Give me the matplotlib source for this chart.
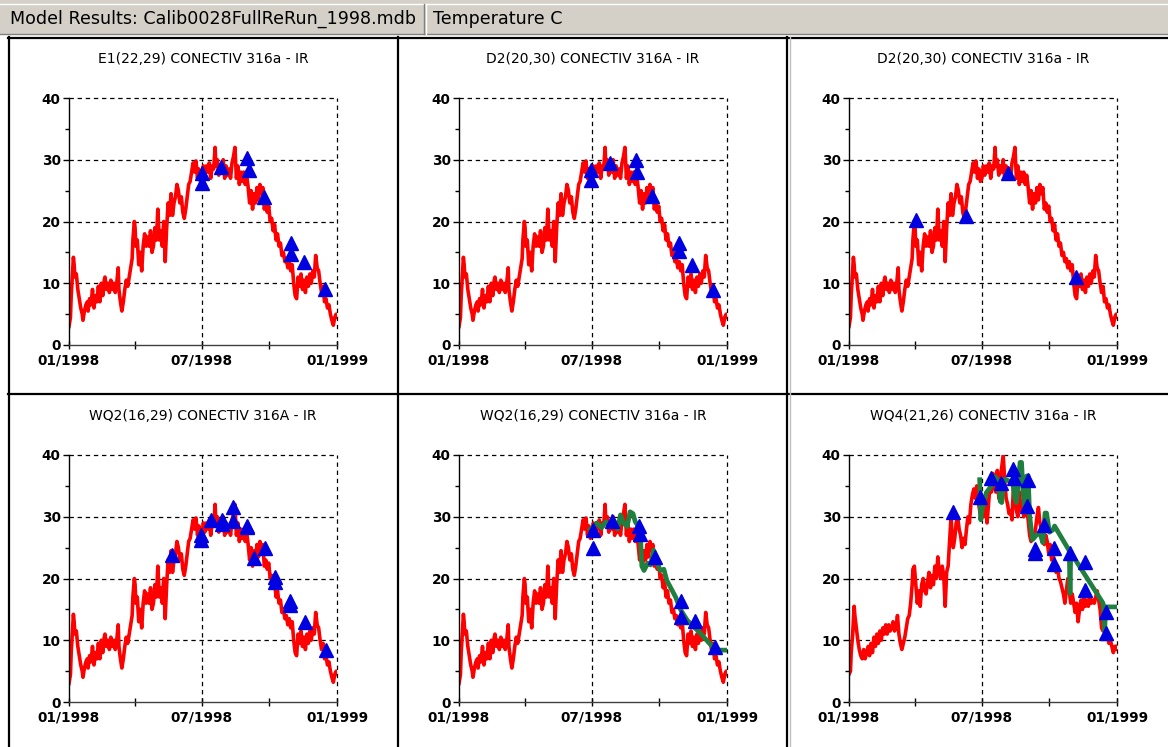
import matplotlib
matplotlib.use("Agg")
import matplotlib.pyplot as plt
from matplotlib.patches import Rectangle
from matplotlib.lines import Line2D

W, H = 1168, 747

# ---------------- data ----------------
titles = ["E1(22,29) CONECTIV 316a - IR",
          "D2(20,30) CONECTIV 316A - IR",
          "D2(20,30) CONECTIV 316a - IR",
          "WQ2(16,29) CONECTIV 316A - IR",
          "WQ2(16,29) CONECTIV 316a - IR",
          "WQ4(21,26) CONECTIV 316a - IR"]

# modelled temperature (day of 1998, deg C)
base_days = [0, 2, 3, 4, 5, 6, 7, 8, 10, 12, 14, 16, 18, 19, 21, 23, 25, 26, 28, 30,
             32, 34, 36, 38, 40, 42, 44, 46, 48, 49, 51, 53, 55, 57, 59, 61, 63, 65, 67, 68,
             70, 72, 74, 76, 78, 80, 82, 84, 86, 87, 88, 89, 90, 91, 93, 95, 97, 99, 101, 103,
             105, 107, 109, 111, 113, 115, 117, 119, 121, 123, 125, 127, 129, 130, 131, 133, 135, 137, 139, 141,
             143, 145, 147, 149, 151, 153, 155, 157, 159, 161, 163, 165, 167, 169, 171, 173, 175, 177, 179, 181,
             183, 185, 187, 189, 191, 193, 195, 197, 199, 200, 202, 204, 206, 208, 210, 212, 214, 216, 218, 220,
             222, 224, 226, 228, 230, 232, 234, 236, 238, 240, 242, 244, 246, 248, 250, 252, 254, 256, 258, 260,
             262, 264, 266, 268, 270, 272, 274, 276, 278, 280, 282, 284, 286, 288, 290, 292, 294, 296, 298, 300,
             302, 304, 306, 308, 310, 312, 314, 316, 318, 320, 322, 324, 326, 328, 330, 332, 334, 336, 338, 340,
             342, 344, 346, 348, 350, 352, 354, 356, 358, 360, 362, 364, 365]
base_temp = [3.0, 4.5, 8, 10, 12, 14.2, 13, 11, 11.5, 9, 7.5, 6, 5, 4, 5.5, 6.5, 7, 5.5, 7.5, 6.5,
             9, 6, 8, 7, 9.5, 7, 10, 8, 10.5, 11, 9, 10, 8.5, 10.5, 9, 10, 8.5, 10, 12.5, 9,
             7, 5.5, 7, 9, 10.5, 9.5, 11, 12.5, 14, 17, 18.5, 20, 19, 16, 17, 13, 15, 12, 16, 18,
             16, 17.5, 16, 18.5, 15, 16, 19, 17, 22, 17, 18.5, 16, 20, 17, 13.5, 19, 23, 21, 24.5, 21,
             23, 24, 26, 25, 23, 24, 21.5, 20.5, 22, 24, 26, 26.5, 28, 29.5, 28, 29.8, 27, 28.5, 26.5, 27,
             29, 27.5, 29, 28, 29.5, 27, 29, 28.5, 32, 29, 30, 27.5, 29, 28, 30, 27, 29, 27.5, 28.5, 27,
             29.5, 30.5, 32, 27, 29, 26, 28, 26.5, 28, 26, 27.5, 25.5, 23, 25, 22, 24.5, 23, 25.5, 23.5, 26,
             24.5, 25.5, 22, 23, 21.5, 22.5, 20, 20.5, 18.5, 19.5, 17, 18, 16, 16.5, 14.5, 15, 13.5, 14, 12.5, 13.5,
             12, 13, 10, 8, 7.5, 11, 9.5, 11.5, 9, 10.5, 8.5, 11, 9.5, 11.5, 10, 12, 11, 14.5, 12.5, 12,
             10, 8.5, 9.5, 7, 7.5, 6, 6.5, 5, 4, 3.2, 4.5, 5, 4.5]

wq4_days = [0, 2, 3, 4, 5, 7, 8, 10, 12, 14, 16, 18, 20, 22, 24, 26, 28, 30, 32, 34,
            36, 38, 40, 42, 44, 46, 48, 50, 52, 54, 56, 58, 60, 62, 64, 66, 68, 70, 72, 74,
            76, 78, 80, 82, 84, 86, 87, 89, 91, 93, 95, 97, 99, 101, 103, 105, 107, 109, 111, 113,
            115, 117, 119, 121, 123, 125, 127, 129, 131, 133, 135, 137, 139, 140, 142, 144, 146, 148, 150, 152,
            154, 156, 158, 160, 162, 164, 166, 168, 170, 172, 174, 176, 178, 180, 182, 184, 186, 188, 190, 192,
            194, 196, 198, 200, 202, 204, 206, 208, 210, 212, 214, 216, 218, 220, 222, 224, 226, 228, 230, 232,
            234, 236, 238, 240, 242, 244, 246, 248, 250, 252, 254, 256, 258, 260, 262, 264, 266, 268, 270, 272,
            274, 276, 278, 280, 282, 284, 286, 288, 290, 292, 294, 296, 298, 300, 302, 304, 306, 308, 310, 312,
            314, 316, 318, 320, 322, 324, 326, 328, 330, 332, 334, 336, 338, 340, 342, 344, 346, 348, 350, 352,
            354, 356, 358, 360, 362, 364, 365]
wq4_temp = [4.5, 5, 8, 9.5, 11, 15.5, 14, 12, 10, 8.5, 7.5, 7, 8.5, 7, 8, 9, 7.5, 9.5, 8, 10.5,
            9, 11, 9.5, 11.5, 10, 12, 11, 12.5, 11, 12.5, 11.5, 12, 13, 11.5, 12, 14, 11, 9.5, 8.5, 9.5,
            10.5, 12, 13.5, 14, 16, 19, 21.5, 22, 19, 16, 18, 15.5, 19, 20, 18, 17.5, 19.5, 21, 18.5, 20.5,
            19, 22, 20, 23.5, 21, 20, 22, 20.5, 15.5, 21, 22, 26, 30, 28, 25, 26.5, 29, 30, 28, 27,
            25, 26.5, 25.5, 28, 30, 29, 32, 33.5, 34.5, 33, 35, 32.5, 31, 29.5, 31, 30, 33, 29, 32, 35,
            34, 37, 35, 34, 37.5, 33, 36, 38, 40, 36, 33, 32, 30.5, 31, 29.5, 35, 33, 31, 30, 34,
            31, 32.5, 30, 32, 31, 29.5, 27, 26, 27, 26.5, 28, 30, 31.5, 29, 28, 27, 25.5, 27, 26, 24,
            25.5, 23, 24, 22, 21, 22, 20, 19.5, 18.5, 17.5, 16, 18, 20, 18, 16, 17.5, 16, 14.5, 16, 13,
            15, 16.5, 15, 17, 15.5, 16.5, 15.5, 17, 16, 16.5, 16, 17, 18, 16.5, 15, 12, 11.5, 12, 11, 10.5,
            9.5, 10, 9, 8, 9, 8.5, 9]

# second model run (green)
green5_days = [179, 184, 188, 194, 200, 206, 211, 216, 220, 224, 229, 233, 237, 240, 244, 247, 249, 252,
               257, 261, 265, 270, 274, 279, 283, 295, 302, 311, 329, 347, 352, 355, 365]
green5_temp = [28, 28.5, 29, 28.2, 29.2, 28.4, 29.4, 28, 30.3, 29, 28.4, 30.8, 30.5, 29.2, 28.5, 27.3, 22, 21.3,
               22.5, 22.2, 24.6, 22.5, 21.3, 21.5, 19.7, 17.0, 14.9, 13.2, 11.1, 8.7, 8.0, 8.4, 8.4]
green6_days = [178, 179.5, 181, 187, 194, 199, 203, 206, 208, 211, 214, 223, 226, 228, 233, 235, 237, 239,
               242, 244, 246, 250, 255, 260, 264, 267, 269, 273, 278, 280, 300, 301, 302, 346, 348, 350, 365]
green6_temp = [36.0, 29.5, 31, 33.9, 35.0, 36.5, 35.8, 32.5, 32.3, 36, 36.0, 35.5, 33, 32.3, 38.8, 38.8, 34, 31.7,
               36.6, 36.6, 30.1, 26.3, 27, 27.4, 25.8, 30.6, 30.6, 27.5, 27.9, 28.5, 24.5, 17.6, 24.2, 16.0, 11.6, 15.4, 15.4]

# observations (blue triangles)
obs1_days = [181, 181, 207, 243, 245, 266, 302, 302, 320, 348]
obs1_temp = [27.8, 26.2, 28.8, 30.3, 28.3, 24.0, 16.5, 14.8, 13.4, 9.0]
obs2_days = [180, 180, 206, 241, 242, 263, 300, 300, 317, 346]
obs2_temp = [28.3, 26.7, 29.5, 30.0, 28.0, 24.1, 16.5, 15.2, 13.0, 8.9]
obs3_days = [91, 160, 217, 309]
obs3_temp = [20.2, 20.9, 27.8, 11.0]
obs4_days = [140, 180, 180, 193, 208, 208, 224, 224, 242, 243, 252, 267, 280, 280, 301, 301, 321, 350]
obs4_temp = [23.8, 27.1, 26.2, 29.5, 29.5, 28.8, 31.5, 29.3, 28.5, 28.3, 23.4, 25.0, 20.3, 19.5, 16.4, 15.7, 12.9, 8.4]
obs5_days = [182, 182, 208, 245, 246, 267, 302, 302, 321, 349]
obs5_temp = [27.9, 24.9, 29.3, 28.5, 27.2, 23.5, 16.4, 13.7, 13.1, 8.9]
obs6_days = [141, 179, 194, 207, 224, 225, 244, 243, 253, 253, 266, 279, 279, 301, 321, 321, 350, 350]
obs6_temp = [30.7, 33.2, 36.2, 35.5, 37.8, 36.2, 35.9, 31.7, 24.7, 24.2, 28.6, 24.9, 22.4, 24.1, 22.6, 18.2, 14.6, 11.1]

xtick_days = [0, 90, 181, 273, 365]
xtick_labels = ["01/1998", "", "07/1998", "", "01/1999"]
xgrid_days = [181, 365]
ygrid = [10, 20, 30, 40]

panels = [
    (titles[0], base_days, base_temp, None, None, obs1_days, obs1_temp),
    (titles[1], base_days, base_temp, None, None, obs2_days, obs2_temp),
    (titles[2], base_days, base_temp, None, None, obs3_days, obs3_temp),
    (titles[3], base_days, base_temp, None, None, obs4_days, obs4_temp),
    (titles[4], base_days, base_temp, green5_days, green5_temp, obs5_days, obs5_temp),
    (titles[5], wq4_days, wq4_temp, green6_days, green6_temp, obs6_days, obs6_temp),
]


def fx(x):
    return x / W


def fy(y):
    return 1 - y / H


fig = plt.figure(figsize=(W / 100, H / 100), dpi=100)
fig.patch.set_facecolor("white")

# header bar
fig.patches.append(Rectangle((0, fy(35)), 1, 35 / H, transform=fig.transFigure,
                             fc="#D4D0C8", ec="none", zorder=0))
for (x0, y0, x1, y1, c) in [(0, 3.5, W, 3.5, "white"), (0, 34, W, 34, "#808080"),
                            (424, 4, 424, 34, "#808080"), (426, 4, 426, 34, "white")]:
    fig.add_artist(Line2D([fx(x0), fx(x1)], [fy(y0), fy(y1)], transform=fig.transFigure,
                          color=c, lw=1))
fig.text(fx(10), fy(19), "Model Results: Calib0028FullReRun_1998.mdb", fontsize=12.6,
         va="center", ha="left")
fig.text(fx(433), fy(19), "Temperature C", fontsize=12.6, va="center", ha="left")

# panel frames
frame_lines = [(8, 37.5, W, 37.5), (8.5, 37, 8.5, H), (397.5, 37, 397.5, H),
               (787, 37, 787, H), (8, 393.5, W, 393.5)]
for (x0, y0, x1, y1) in frame_lines:
    fig.add_artist(Line2D([fx(x0), fx(x1)], [fy(y0), fy(y1)], transform=fig.transFigure,
                          color="black", lw=1.6))
fig.add_artist(Line2D([fx(790), fx(790)], [fy(37), fy(H)], transform=fig.transFigure,
                      color="#C0C0C0", lw=1))

lefts = [69, 459, 849]
tops = [98, 455]
aw, ah = 268, 247

for i, (title, rd, rt, gd, gt, od, ot) in enumerate(panels):
    row, col = divmod(i, 3)
    L, T = lefts[col], tops[row]
    ax = fig.add_axes([fx(L), fy(T + ah), aw / W, ah / H])
    ax.set_xlim(0, 365)
    ax.set_ylim(0, 40)
    for g in ygrid:
        ax.axhline(g, color="black", lw=0.9, ls=(0, (3.5, 3)), zorder=1, clip_on=False)
    for g in xgrid_days:
        ax.axvline(g, color="black", lw=0.9, ls=(0, (3.5, 3)), zorder=1, clip_on=False)
    ax.plot(rd, rt, color="#FF0000", lw=2.6, zorder=2)
    if gd is not None:
        ax.plot(gd, gt, color="#1E7F3E", lw=3.4, zorder=3)
    ax.plot(od, ot, ls="none", marker="^", ms=9.5, color="#0000E0", mec="#0000E0", zorder=4)

    ax.spines["top"].set_visible(False)
    ax.spines["right"].set_visible(False)
    ax.spines["left"].set_linewidth(1.0)
    ax.spines["bottom"].set_linewidth(1.0)
    ax.spines["bottom"].set_color("#404040")
    ax.set_xticks(xtick_days)
    ax.set_xticklabels(xtick_labels, fontweight="bold", fontsize=9.8)
    ax.set_yticks([0, 10, 20, 30, 40])
    ax.set_yticks([5, 15, 25, 35], minor=True)
    ax.set_yticklabels(["0", "10", "20", "30", "40"], fontweight="bold", fontsize=9.8)
    ax.tick_params(axis="x", direction="inout", length=6, width=1, pad=3)
    ax.tick_params(axis="y", direction="out", length=4, width=1, pad=2)
    ax.tick_params(axis="y", which="minor", direction="out", length=3, width=1)
    ax.set_facecolor("none")

    fig.text(fx(L + aw / 2), fy(T - 39), title, fontsize=10, ha="center", va="center")

plt.savefig("out.png", dpi=100)
plt.close()
